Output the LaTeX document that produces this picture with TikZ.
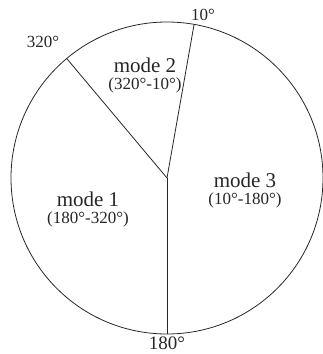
\documentclass[tikz,border=0pt]{standalone}
\usepackage{fontspec}
\setmainfont{Liberation Serif}
\usetikzlibrary{positioning,calc}
\definecolor{ink}{HTML}{262626}
\tikzset{
  rim/.style={draw=ink,line width=0.8pt},
  spoke/.style={draw=ink,line width=0.8pt},
  modelabel/.style={font=\fontsize{21}{23}\selectfont,text=ink,inner sep=0.5pt},
  rangelabel/.style={font=\fontsize{17}{19}\selectfont,text=ink,inner sep=0.5pt},
  anglelabel/.style={font=\fontsize{17}{19}\selectfont,text=ink,inner sep=0.5pt}
}
\begin{document}
\begin{tikzpicture}[x=1pt,y=1pt]
    \useasboundingbox (0,0) rectangle (322,354);
    \coordinate (centre) at (167,176);
    \draw[rim] (centre) circle (156);

    % borders between the modes
    \coordinate (b10) at ($(centre)+(80:156)$);
    \coordinate (b320) at ($(centre)+(130:156)$);
    \coordinate (b180) at ($(centre)+(270:156)$);
    \draw[spoke] (centre) -- (b10);
    \draw[spoke] (centre) -- (b320);
    \draw[spoke] (centre) -- (b180);

    \node[anglelabel] (a10) at (203,339) {10°};
    \node[anglelabel] (a320) at (43,312) {320°};
    \node[anglelabel,font=\fontsize{19}{21}\selectfont] (a180) at (167,11) {180°};

    \node[modelabel] (mode2) at (145,289) {mode 2};
    \node[rangelabel,below=3.5pt of mode2] (range2) {(320°-10°)};
    \node[modelabel] (mode3) at (245,174) {mode 3};
    \node[rangelabel,below=3.5pt of mode3] (range3) {(10°-180°)};
    \node[modelabel] (mode1) at (88,155) {mode 1};
    \node[rangelabel,below=3.5pt of mode1] (range1) {(180°-320°)};
  \end{tikzpicture}
\end{document}
